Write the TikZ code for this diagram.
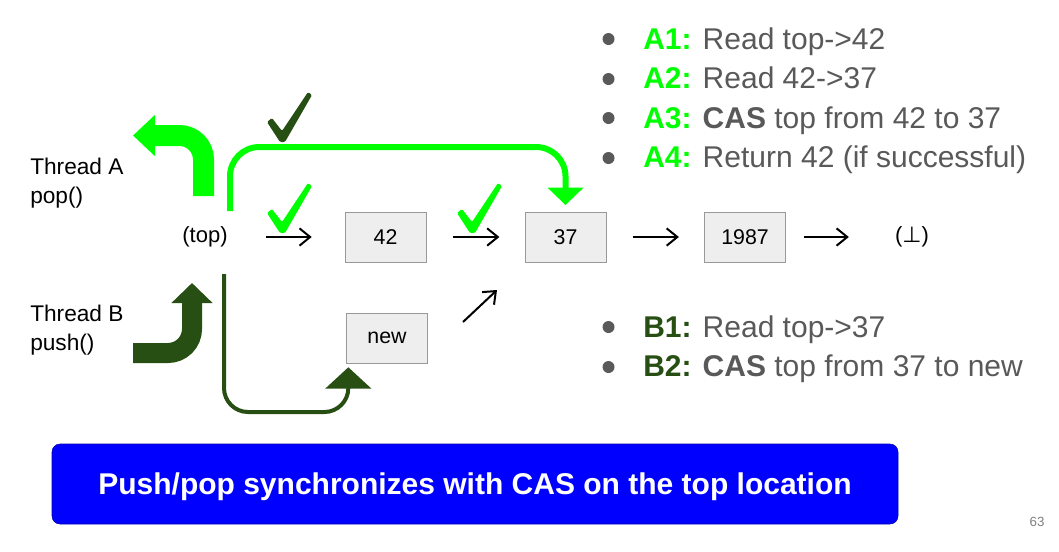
\documentclass[tikz,border=0pt]{standalone}
\usepackage{fontspec}
\setmainfont{Liberation Sans}
\newfontfamily\symfont{DejaVu Sans}
\usetikzlibrary{arrows.meta,positioning,calc}
\definecolor{popgreen}{HTML}{00FF00}
\definecolor{pushgreen}{HTML}{274E13}
\definecolor{txtgray}{HTML}{595959}
\definecolor{cellfill}{HTML}{EEEEEE}
\definecolor{cellline}{HTML}{999999}
\definecolor{bannerblue}{HTML}{0000FF}

\begin{document}
\begin{tikzpicture}[x=0.75pt,y=-0.75pt,>={Straight Barb[length=8pt,width=13pt]},
  cell/.style={draw=cellline,fill=cellfill,minimum width=60.75pt,minimum height=37.5pt,inner sep=0pt,font=\fontsize{16}{19}\selectfont},
  plain/.style={inner sep=0pt,font=\fontsize{16.5}{19}\selectfont},
  thread/.style={inner sep=0pt,align=left,anchor=west,font=\fontsize{17}{22}\selectfont},
  ptr/.style={->,line width=1.5pt},
  pics/tick/.style={code={\fill[rounded corners=1pt] (-16,-20) -- (-11,-24) -- (-1,-11) -- (25,-50) -- (29,-47) -- (2,0) -- (-3,0) -- cycle;}},
  item/.style={anchor=base west,inner sep=0pt,text=txtgray,font=\fontsize{22.5}{26}\selectfont},
  dot/.style={circle,fill=txtgray,minimum size=9pt,inner sep=0pt}]
\useasboundingbox (0,0) rectangle (1059,551);

\node[thread] (thrA) at (30,183) {Thread A\\pop()};
\node[thread] (thrB) at (30,330) {Thread B\\push()};

\node[plain] (top) at (205,237) {(top)};
\node[cell] (n42) at (385.5,237) {42};
\node[cell] (n37) at (565.5,237) {37};
\node[cell] (n1987) at (745,237) {1987};
\node[plain] (nil) at (912,237) {({\symfont ⊥})};
\node[cell] (new) at (387,338) {new};

\draw[ptr,shorten <=28.5pt,shorten >=24.75pt] (top) -- (n42);
\draw[ptr,shorten <=20pt,shorten >=19pt] (n42) -- (n37);
\draw[ptr,shorten <=20pt,shorten >=19pt] (n37) -- (n1987);
\draw[ptr,shorten <=13.5pt,shorten >=34.5pt] (n1987) -- (nil);
\coordinate (up1) at (463,322);
\coordinate (up2) at (497,290);
\draw[ptr] (up1) -- (up2);

\draw[popgreen,line width=15.75pt,rounded corners=18pt,-{Triangle[length=16.5pt,width=30pt]}] (203.5,196) -- (203.5,135.5) -- (133,135.5);
\draw[pushgreen,line width=15pt,rounded corners=18pt,-{Triangle[length=15pt,width=30pt]}] (133,353) -- (192,353) -- (192,283);

\coordinate (popstart) at (230,211);
\coordinate (pushstart) at (224,274);
\draw[popgreen,line width=4.5pt,rounded corners=22pt,-{Triangle[length=13pt,width=26pt]}] (popstart) -- (230,147) -| ([yshift=5pt]n37.north);
\draw[pushgreen,line width=3pt,rounded corners=18pt,-{Triangle[length=16pt,width=34pt]}] (pushstart) -- (224,412) -| ([xshift=-29pt,yshift=-3pt]new.south);

\pic[pushgreen] at (283,142) {tick};
\pic[popgreen] at (283,233) {tick};
\pic[popgreen] at (473,233) {tick};

\node[dot] (da1) at (608.5,39) {};
\node[item] (a1) at (643,49) {\textcolor{popgreen}{\textbf{A1:}} Read top->42};
\node[dot] (da2) at (608.5,79) {};
\node[item] (a2) at (643,88.5) {\textcolor{popgreen}{\textbf{A2:}} Read 42->37};
\node[dot] (da3) at (608.5,118) {};
\node[item] (a3) at (643,128) {\textcolor{popgreen}{\textbf{A3:}} \textbf{CAS} top from 42 to 37};
\node[dot] (da4) at (608.5,158) {};
\node[item] (a4) at (643,167.5) {\textcolor{popgreen}{\textbf{A4:}} Return 42 (if successful)};
\node[dot] (db1) at (608.5,327) {};
\node[item] (b1) at (643,337) {\textcolor{pushgreen}{\textbf{B1:}} Read top->37};
\node[dot] (db2) at (608.5,367) {};
\node[item] (b2) at (643,376) {\textcolor{pushgreen}{\textbf{B2:}} \textbf{CAS} top from 37 to new};

\node[draw=bannerblue!70!black,fill=bannerblue,rounded corners=6pt,minimum width=634.5pt,minimum height=60pt,text depth=0pt,text=white,font=\bfseries\fontsize{22.5}{26}\selectfont] (msg) at (475,484) {Push/pop synchronizes with CAS on the top location};
\node[text=gray,font=\fontsize{10}{12}\selectfont] (pg) at (1037,522) {63};
\end{tikzpicture}
\end{document}
